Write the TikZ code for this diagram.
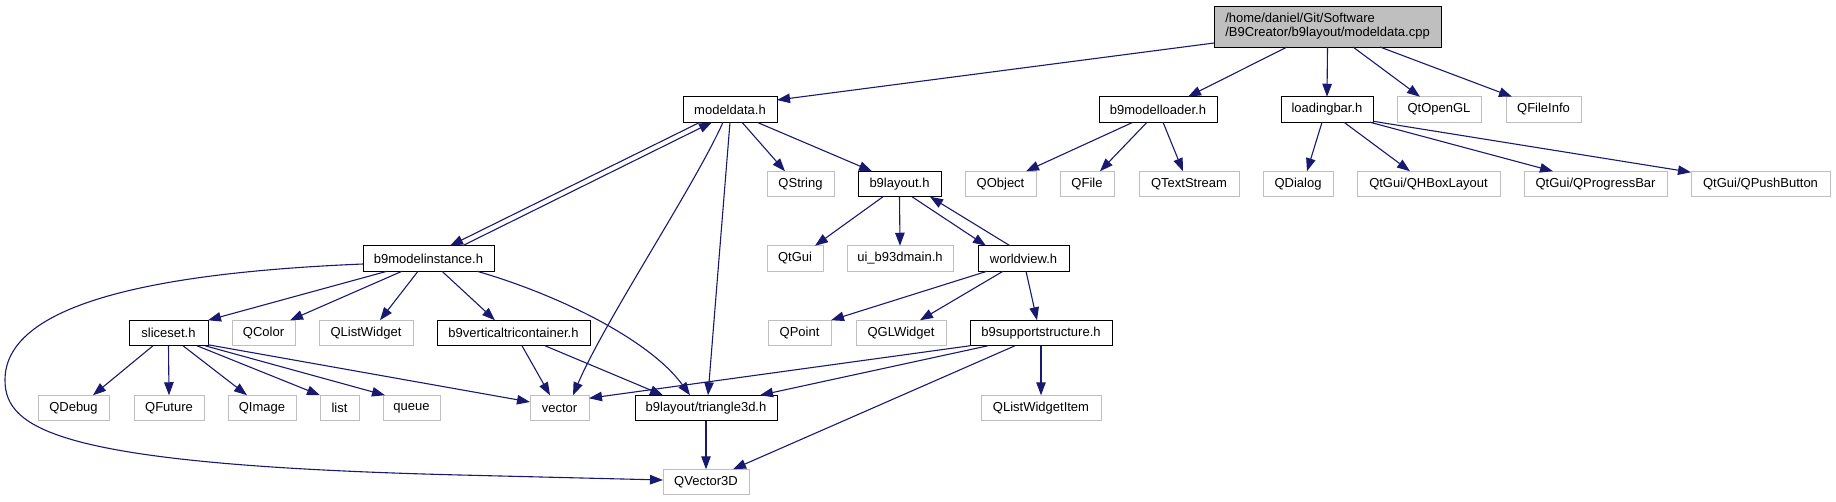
\documentclass[tikz,border=0pt]{standalone}
\usepackage{fontspec}
\setmainfont{Liberation Sans}
\usetikzlibrary{arrows.meta}
\definecolor{edgecol}{HTML}{191970}
\definecolor{graybd}{HTML}{BFBFBF}
\definecolor{mainfill}{HTML}{BFBFBF}
\tikzset{
  box/.style={draw=black, line width=1pt, inner sep=0pt, outer sep=0pt,
    minimum height=25.5pt, font=\fontsize{13pt}{14pt}\selectfont},
  gbox/.style={box, draw=graybd},
  mainbox/.style={box, fill=mainfill, minimum height=41pt, align=left},
  edge/.style={draw=edgecol, line width=1.1pt, -{Triangle[length=13pt,width=9.5pt]}},
}
\begin{document}
\begin{tikzpicture}[x=1pt,y=-1pt]
\useasboundingbox (0,0) rectangle (1836,501);
% row 0
\node[mainbox, minimum width=227pt] (main) at (1327.5,26.5) {/home/daniel/Git/Software\\/B9Creator/b9layout/modeldata.cpp};
% row 1
\node[box, minimum width=94pt] (md) at (730,109.5) {modeldata.h};
\node[box, minimum width=118pt] (mlo) at (1158,109.5) {b9modelloader.h};
\node[box, minimum width=92pt] (lb) at (1327,109.5) {loadingbar.h};
\node[gbox, minimum width=84pt] (ogl) at (1439,109.5) {QtOpenGL};
\node[gbox, minimum width=75pt] (fi) at (1543.5,109.5) {QFileInfo};
% row 2
\node[gbox, minimum width=67pt] (qs) at (800.5,184) {QString};
\node[box, minimum width=83pt] (b9l) at (899.5,184) {b9layout.h};
\node[gbox, minimum width=71pt] (qo) at (1000.5,184) {QObject};
\node[gbox, minimum width=54pt] (qf) at (1087,184) {QFile};
\node[gbox, minimum width=100pt] (qts) at (1189,184) {QTextStream};
\node[gbox, minimum width=70pt] (qd) at (1298,184) {QDialog};
\node[gbox, minimum width=143pt] (hbox) at (1428.5,184) {QtGui/QHBoxLayout};
\node[gbox, minimum width=143pt] (pbar) at (1595.5,184) {QtGui/QProgressBar};
\node[gbox, minimum width=139pt] (pbtn) at (1760.5,184) {QtGui/QPushButton};
% row 3
\node[box, minimum width=131pt] (mi) at (428.5,258.5) {b9modelinstance.h};
\node[gbox, minimum width=56pt] (qtgui) at (795,258.5) {QtGui};
\node[gbox, minimum width=106pt] (ui) at (900,258.5) {ui\_b93dmain.h};
\node[box, minimum width=91pt] (wv) at (1023.5,258.5) {worldview.h};
% row 4
\node[box, minimum width=79pt] (ss) at (168.5,333) {sliceset.h};
\node[gbox, minimum width=63pt] (qc) at (263.5,333) {QColor};
\node[gbox, minimum width=94pt] (qlw) at (366,333) {QListWidget};
\node[box, minimum width=153pt] (vtc) at (513.5,333) {b9verticaltricontainer.h};
\node[gbox, minimum width=63pt] (qp) at (799.5,333) {QPoint};
\node[gbox, minimum width=90pt] (qgl) at (901,333) {QGLWidget};
\node[box, minimum width=142pt] (b9ss) at (1041,333) {b9supportstructure.h};
% row 5
\node[gbox, minimum width=71pt] (qdbg) at (73.5,408) {QDebug};
\node[gbox, minimum width=70pt] (qfut) at (169,408) {QFuture};
\node[gbox, minimum width=68pt] (qimg) at (262,408) {QImage};
\node[gbox, minimum width=39pt] (lst) at (339.5,408) {list};
\node[gbox, minimum width=57pt] (que) at (411.5,408) {queue};
\node[gbox, minimum width=59pt] (vec) at (559.5,408) {vector};
\node[box, minimum width=142pt] (tri) at (706,408) {b9layout/triangle3d.h};
\node[gbox, minimum width=120pt] (qlwi) at (1041,408) {QListWidgetItem};
% row 6
\node[gbox, minimum width=86pt] (v3d) at (706,482) {QVector3D};

% edges from main
\draw[edge] ([yshift=-16.5pt]main.west) -- ([yshift=9.5pt]md.east);
\draw[edge] ([xshift=-40.5pt]main.south) -- ([xshift=30pt]mlo.north);
\draw[edge] (main.south) -- (lb.north);
\draw[edge] ([xshift=25.5pt]main.south) -- ([xshift=-19pt]ogl.north);
\draw[edge] ([xshift=52.5pt]main.south) -- ([xshift=-31.5pt]fi.north);
% modeldata
\draw[edge] ([xshift=-30pt]md.south) -- ([xshift=21.5pt]mi.north);
\draw[edge] ([xshift=34pt]mi.north) -- ([xshift=-18pt]md.south);
\draw[edge] ([xshift=-7pt]md.south) .. controls +(-28,63) and +(32,-75) .. ([xshift=13.5pt]vec.north);
\draw[edge] (md.south) -- ([xshift=2pt]tri.north);
\draw[edge] ([xshift=12pt]md.south) -- ([xshift=-15.5pt]qs.north);
\draw[edge] ([xshift=27pt]md.south) -- ([xshift=-27.5pt]b9l.north);
% b9modelloader
\draw[edge] ([xshift=-25pt]mlo.south) -- ([xshift=25.5pt]qo.north);
\draw[edge] ([xshift=-11pt]mlo.south) -- ([xshift=13pt]qf.north);
\draw[edge] ([xshift=5pt]mlo.south) -- ([xshift=-6pt]qts.north);
% loadingbar
\draw[edge] ([xshift=-5pt]lb.south) -- ([xshift=9pt]qd.north);
\draw[edge] ([xshift=17pt]lb.south) -- ([xshift=-18.5pt]hbox.north);
\draw[edge] ([xshift=-3pt]lb.south east) -- ([xshift=-42.5pt]pbar.north);
\draw[edge] ([yshift=1pt]lb.south east) -- ([yshift=-1pt]pbtn.north west);
% b9layout
\draw[edge] ([xshift=-16.5pt]b9l.south) -- ([xshift=20pt]qtgui.north);
\draw[edge] (b9l.south) -- (ui.north);
\draw[edge] ([xshift=12.5pt]b9l.south) -- ([xshift=-37.5pt]wv.north);
\draw[edge] ([xshift=-13.5pt]wv.north) -- ([xshift=30.5pt]b9l.south);
% b9modelinstance
\draw[edge] ([yshift=-5.5pt]mi.west) .. controls (170,272) and (5,300) .. (5,380)
  .. controls (5,430) and (60,465) .. (460,475) -- ([yshift=2pt]v3d.west);
\draw[edge] ([xshift=-41.5pt]mi.south) -- (ss.north east);
\draw[edge] ([xshift=-26.5pt]mi.south) -- ([xshift=26.5pt]qc.north);
\draw[edge] ([xshift=-10.5pt]mi.south) -- ([xshift=14pt]qlw.north);
\draw[edge] ([xshift=13.5pt]mi.south) -- ([xshift=-18.5pt]vtc.north);
\draw[edge] ([xshift=48.5pt]mi.south) .. controls +(83,24) and +(-40,-55) .. ([xshift=-16pt]tri.north);
% b9verticaltricontainer
\draw[edge] ([xshift=8.5pt]vtc.south) -- ([xshift=-9.5pt]vec.north);
\draw[edge] ([xshift=31.5pt]vtc.south) -- ([xshift=-43pt]tri.north);
% sliceset
\draw[edge] ([xshift=-15.5pt]ss.south) -- ([xshift=19.5pt]qdbg.north);
\draw[edge] (ss.south) -- (qfut.north);
\draw[edge] ([xshift=14.5pt]ss.south) -- ([xshift=-15pt]qimg.north);
\draw[edge] ([xshift=28.5pt]ss.south) -- (lst.north west);
\draw[edge] ([xshift=36.5pt]ss.south) -- ([xshift=2pt]que.north west);
\draw[edge] ([yshift=1pt]ss.south east) -- ([yshift=6pt]vec.west);
% worldview
\draw[edge] ([xshift=-36.5pt]wv.south) -- (qp.north east);
\draw[edge] ([xshift=-20.5pt]wv.south) -- ([xshift=19pt]qgl.north);
\draw[edge] ([xshift=2.5pt]wv.south) -- ([xshift=-4pt]b9ss.north);
% b9supportstructure
\draw[edge] (b9ss.south west) -- ([yshift=-3pt]vec.north east);
\draw[edge] ([xshift=-53pt]b9ss.south) -- ([xshift=54pt]tri.north);
\draw[edge] ([xshift=-26pt]b9ss.south) -- ([xshift=27pt]v3d.north);
\draw[edge] (b9ss.south) -- (qlwi.north);
% triangle3d
\draw[edge] (tri.south) -- (v3d.north);
\end{tikzpicture}
\end{document}
